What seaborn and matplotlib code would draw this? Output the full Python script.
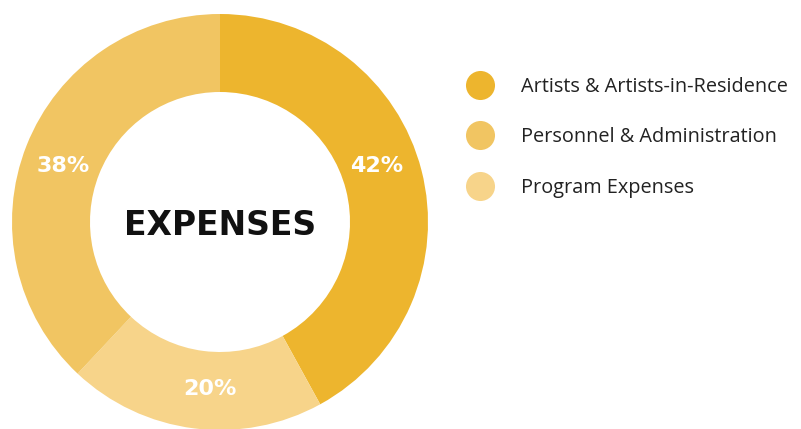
import matplotlib
matplotlib.use("Agg")
import matplotlib.pyplot as plt
import seaborn as sns
import numpy as np

categories = ["Artists & Artists-in-Residence", "Personnel & Administration", "Program Expenses"]
shares = [42, 38, 20]
colors = ["#EDB52E", "#F1C562", "#F7D48A"]
center_title = "EXPENSES"

# drawing order around the ring (clockwise from top)
ring_order = [0, 2, 1]

sns.set_theme(style="white")
plt.rcParams["font.family"] = ["Open Sans", "DejaVu Sans"]

W, H = 801, 429
fig = plt.figure(figsize=(W / 100, H / 100), dpi=100)
fig.patch.set_facecolor("white")

cx, cy, R = 220, 222, 208
ax = fig.add_axes([(cx - R) / W, (H - cy - R) / H, 2 * R / W, 2 * R / H])
vals = [shares[i] for i in ring_order]
cols = [colors[i] for i in ring_order]
wedges, texts, autotexts = ax.pie(
    vals, colors=cols, startangle=90, counterclock=False,
    radius=1, wedgeprops=dict(width=1 - 130 / 208, linewidth=0),
    autopct="%d%%", pctdistance=0.805,
    textprops=dict(color="white", fontsize=16, fontweight="heavy",
                   family=["DejaVu Sans"]),
)
# nudge label angles slightly (degrees, counter-clockwise)
nudge = [5.5, 3.8, 1.6]
for w, t, d in zip(wedges, autotexts, nudge):
    a = np.deg2rad((w.theta1 + w.theta2) / 2 + d)
    t.set_position((0.80 * np.cos(a), 0.80 * np.sin(a) - 0.005))
ax.set_xlim(-1, 1)
ax.set_ylim(-1, 1)
ax.set_aspect("equal")
ax.axis("off")
ax.text(0, -0.015, center_title, ha="center", va="center", fontsize=23.8,
        fontweight="bold", color="#111111", family=["DejaVu Sans"])

# legend
lax = fig.add_axes([0, 0, 1, 1])
lax.set_xlim(0, W)
lax.set_ylim(H, 0)
lax.axis("off")
lax.patch.set_alpha(0)
ys = [85, 135, 186]
for i, name in enumerate(categories):
    lax.scatter([480], [ys[i]], s=29 ** 2 * 0.52, color=colors[i], linewidths=0)
    lax.text(521, ys[i] + 1.5, name, ha="left", va="center", fontsize=14.3,
             color="#222222")

fig.savefig("out.png", dpi=100)
